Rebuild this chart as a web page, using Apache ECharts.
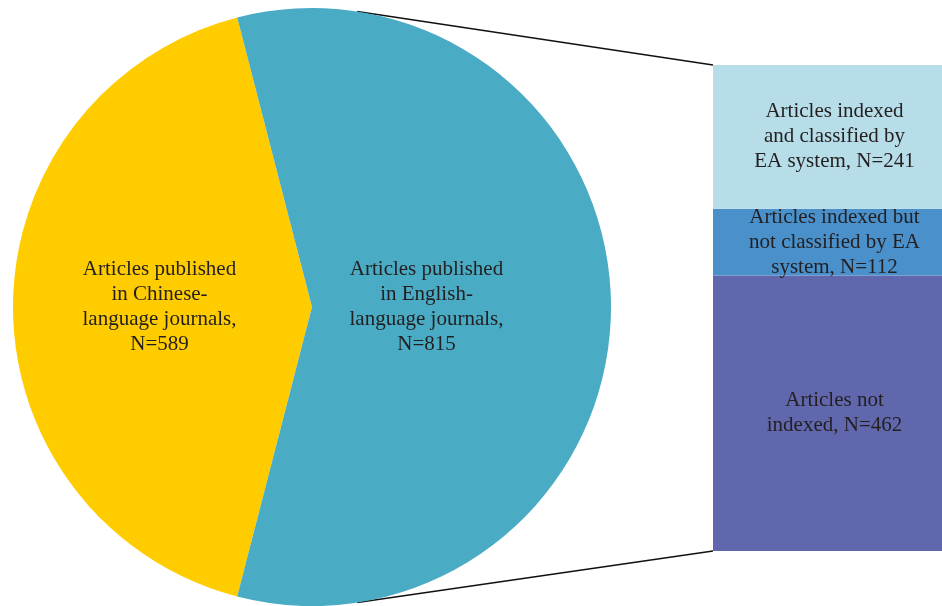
<!DOCTYPE html>
<html>
<head>
<meta charset="utf-8">
<script src="https://cdn.jsdelivr.net/npm/echarts@6/dist/echarts.min.js"></script>
<style>
  html, body { margin: 0; padding: 0; background: #ffffff; }
  #chart { width: 942px; height: 606px; }
</style>
</head>
<body>
<div id="chart"></div>
<script>
// Pie: articles by journal language
const pieNames = [
  'Articles published\nin Chinese-\nlanguage journals,\nN=589',
  'Articles published\nin English-\nlanguage journals,\nN=815'
];
const pieValues = [589, 815];
const pieColors = ['#FFCC00', '#4AABC4'];

// Stacked bar: breakdown of the English-language articles (bottom to top)
const barNames = [
  'Articles not\nindexed, N=462',
  'Articles indexed but\nnot classified by EA\nsystem, N=112',
  'Articles indexed\nand classified by\nEA system, N=241'
];
const barValues = [462, 112, 241];
const barColors = ['#6067AD', '#4A90CB', '#B6DDE8'];

const FONT = "'Liberation Serif', 'Times New Roman', serif";
const TEXT_COLOR = '#231F20';
const FONT_SIZE = 21;
const LINE_H = 25;

// Layout
const pieCenter = [312, 307];
const pieRadius = 299;
const barLeft = 713, barTop = 65, barWidth = 243, barHeight = 486;

const total = pieValues.reduce((a, b) => a + b, 0);
// Chinese slice centred on the left side
const chineseSweep = pieValues[0] / total * 360;
const startAngle = 180 + chineseSweep / 2;

// Connector lines from the pie rim to the corners of the bar
const connAngle = 81.3 * Math.PI / 180;
const topRim = [pieCenter[0] + pieRadius * Math.cos(connAngle), pieCenter[1] - pieRadius * Math.sin(connAngle)];
const botRim = [pieCenter[0] + pieRadius * Math.cos(connAngle), pieCenter[1] + pieRadius * Math.sin(connAngle)];

const chart = echarts.init(document.getElementById('chart'), null, { renderer: 'canvas' });

const barSeries = barValues.map((v, i) => ({
  type: 'bar',
  stack: 'english',
  name: barNames[i],
  barWidth: '100%',
  silent: true,
  data: [v],
  itemStyle: { color: barColors[i] },
  label: {
    show: true,
    position: 'inside',
    formatter: barNames[i],
    color: TEXT_COLOR,
    fontFamily: FONT,
    fontSize: FONT_SIZE,
    lineHeight: LINE_H,
    align: 'center'
  }
}));

chart.setOption({
  animation: false,
  backgroundColor: '#ffffff',
  grid: {
    left: barLeft, top: barTop, width: barWidth, height: barHeight,
    containLabel: false, outerBoundsMode: 'none'
  },
  xAxis: { type: 'category', data: ['English'], show: false, boundaryGap: true },
  yAxis: { type: 'value', min: 0, max: pieValues[1], show: false },
  graphic: [
    { type: 'line', z: 0, shape: { x1: topRim[0], y1: topRim[1], x2: barLeft, y2: barTop },
      style: { stroke: '#111111', lineWidth: 1.5 } },
    { type: 'line', z: 0, shape: { x1: botRim[0], y1: botRim[1], x2: barLeft, y2: barTop + barHeight },
      style: { stroke: '#111111', lineWidth: 1.5 } }
  ],
  series: [
    {
      type: 'pie',
      center: pieCenter,
      radius: [0, pieRadius],
      startAngle: startAngle,
      clockwise: true,
      silent: true,
      avoidLabelOverlap: false,
      itemStyle: { borderWidth: 0 },
      label: {
        show: true,
        position: 'inside',
        color: TEXT_COLOR,
        fontFamily: FONT,
        fontSize: FONT_SIZE,
        lineHeight: LINE_H,
        align: 'center',
        formatter: p => p.name
      },
      labelLine: { show: false },
      labelLayout: p => (p.dataIndex === 1 ? { dx: -38 } : { dx: 0 }),
      data: pieValues.map((v, i) => ({ name: pieNames[i], value: v, itemStyle: { color: pieColors[i] } }))
    }
  ].concat(barSeries)
});
</script>
</body>
</html>
